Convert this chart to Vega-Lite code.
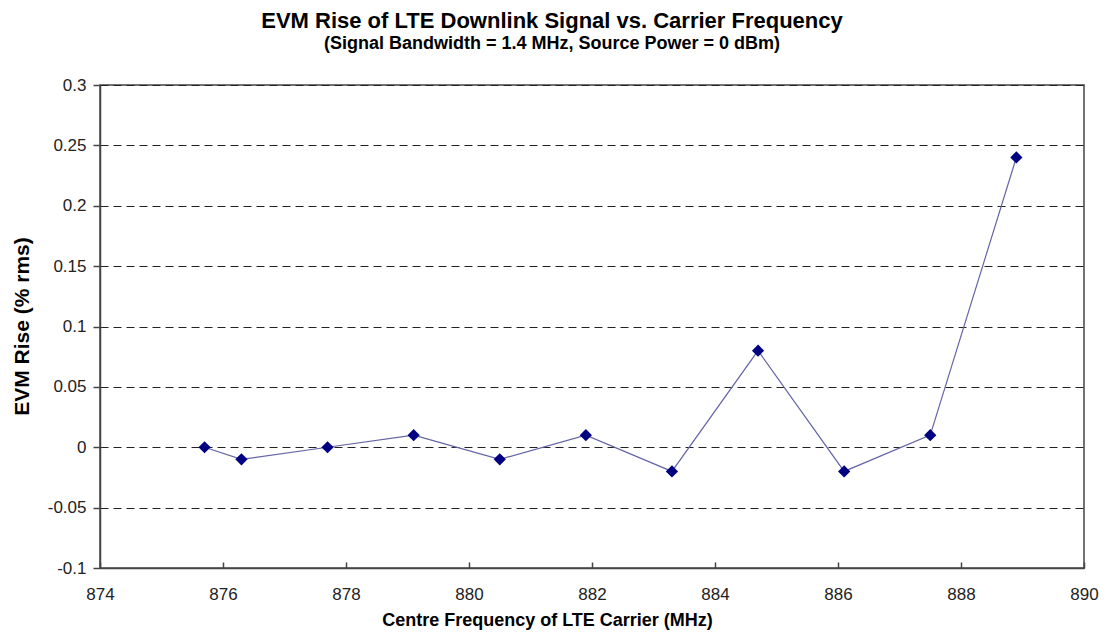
{
  "$schema": "https://vega.github.io/schema/vega-lite/v6.json",
  "width": 984,
  "height": 483,
  "autosize": {"type": "none"},
  "padding": {"left": 100, "top": 85, "right": 20, "bottom": 64},
  "background": "white",
  "title": {
    "text": "EVM Rise of LTE Downlink Signal vs. Carrier Frequency",
    "subtitle": "(Signal Bandwidth = 1.4 MHz, Source Power = 0 dBm)",
    "anchor": "middle",
    "dx": -40,
    "font": "Liberation Sans",
    "fontSize": 22,
    "fontWeight": "bold",
    "color": "#000000",
    "subtitleFont": "Liberation Sans",
    "subtitleFontSize": 18,
    "subtitleFontWeight": "bold",
    "subtitleColor": "#000000",
    "subtitlePadding": 2,
    "offset": 22
  },
  "config": {
    "view": {"stroke": "#444444", "strokeWidth": 1.5},
    "font": "Liberation Sans"
  },
  "data": {
    "values": [
      {"freq": 875.7, "evm": 0},
      {"freq": 876.3, "evm": -0.01},
      {"freq": 877.7, "evm": 0},
      {"freq": 879.1, "evm": 0.01},
      {"freq": 880.5, "evm": -0.01},
      {"freq": 881.9, "evm": 0.01},
      {"freq": 883.3, "evm": -0.02},
      {"freq": 884.7, "evm": 0.08},
      {"freq": 886.1, "evm": -0.02},
      {"freq": 887.5, "evm": 0.01},
      {"freq": 888.9, "evm": 0.24}
    ]
  },
  "encoding": {
    "x": {
      "field": "freq",
      "type": "quantitative",
      "scale": {"domain": [874, 890], "nice": false, "zero": false},
      "axis": {
        "title": "Centre Frequency of LTE Carrier (MHz)",
        "values": [874, 876, 878, 880, 882, 884, 886, 888, 890],
        "format": "d",
        "grid": false,
        "labelFlush": false,
        "labelOverlap": false,
        "domainColor": "#444444",
        "domainWidth": 1.5,
        "tickColor": "#444444",
        "tickWidth": 1.5,
        "tickSize": -6,
        "labelPadding": 24,
        "labelFont": "Liberation Sans",
        "labelFontSize": 17,
        "labelColor": "#222222",
        "titleFont": "Liberation Sans",
        "titleFontSize": 18,
        "titleFontWeight": "bold",
        "titleColor": "#000000",
        "titleX": 447,
        "titleY": 43
      }
    },
    "y": {
      "field": "evm",
      "type": "quantitative",
      "scale": {"domain": [-0.1, 0.3], "nice": false, "zero": false},
      "axis": {
        "title": "EVM Rise (% rms)",
        "values": [-0.1, -0.05, 0, 0.05, 0.1, 0.15, 0.2, 0.25, 0.3],
        "labelExpr": "replace(format(datum.value, '~g'), '\u2212', '-')",
        "labelOverlap": false,
        "grid": true,
        "gridColor": "#222222",
        "gridDash": [8, 5],
        "gridWidth": 1.2,
        "domainColor": "#444444",
        "domainWidth": 1.5,
        "tickColor": "#444444",
        "tickWidth": 1.5,
        "tickSize": 7,
        "labelPadding": 7,
        "labelFont": "Liberation Sans",
        "labelFontSize": 17,
        "labelColor": "#222222",
        "titleFont": "Liberation Sans",
        "titleFontSize": 21,
        "titleFontWeight": "bold",
        "titleColor": "#000000",
        "titleX": -68,
        "titleY": 241
      }
    }
  },
  "layer": [
    {
      "mark": {"type": "line", "color": "#6464a8", "strokeWidth": 1.2}
    },
    {
      "mark": {"type": "point", "shape": "diamond", "filled": true, "color": "#000080", "size": 150, "opacity": 1}
    }
  ]
}
